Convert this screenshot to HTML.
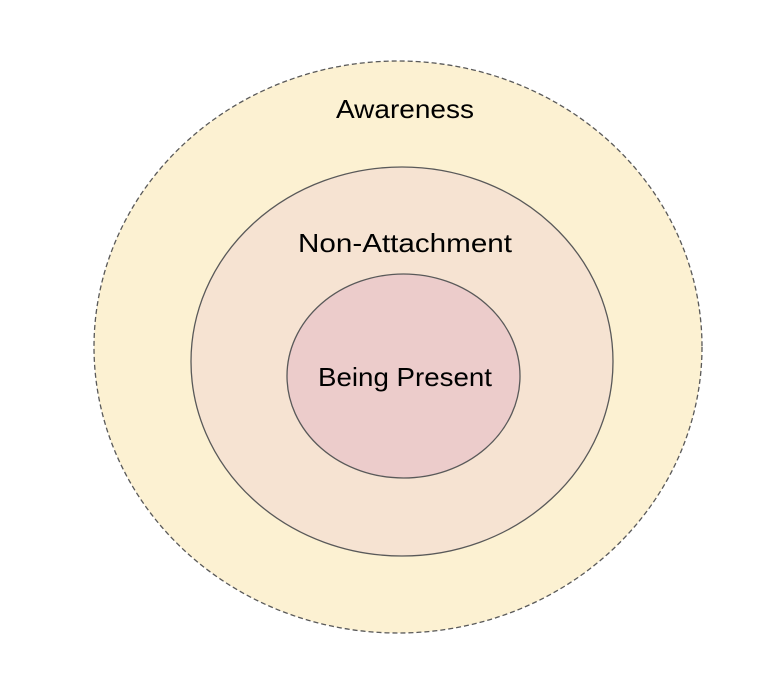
<!DOCTYPE html>
<html><head><style>html,body{margin:0;padding:0;background:#fff;}svg{display:block}</style></head>
<body>
<svg width="784" height="676" viewBox="0 0 784 676" xmlns="http://www.w3.org/2000/svg">
<ellipse cx="398" cy="347" rx="304" ry="286" fill="#fcf1d2" stroke="#595959" stroke-width="1.3" stroke-dasharray="5,3"/>
<ellipse cx="402" cy="361.5" rx="211" ry="194.5" fill="#f6e3d2" stroke="#595959" stroke-width="1.3"/>
<ellipse cx="403.5" cy="376" rx="116.5" ry="102" fill="#eccccb" stroke="#595959" stroke-width="1.3"/>
<g font-family="Liberation Sans, sans-serif" font-size="26" fill="#000" text-anchor="middle">
<text x="405" y="118" textLength="138" lengthAdjust="spacingAndGlyphs">Awareness</text>
<text x="405" y="252" textLength="214" lengthAdjust="spacingAndGlyphs">Non-Attachment</text>
<text x="405" y="386" textLength="174" lengthAdjust="spacingAndGlyphs">Being Present</text>
</g>
</svg>
</body></html>
